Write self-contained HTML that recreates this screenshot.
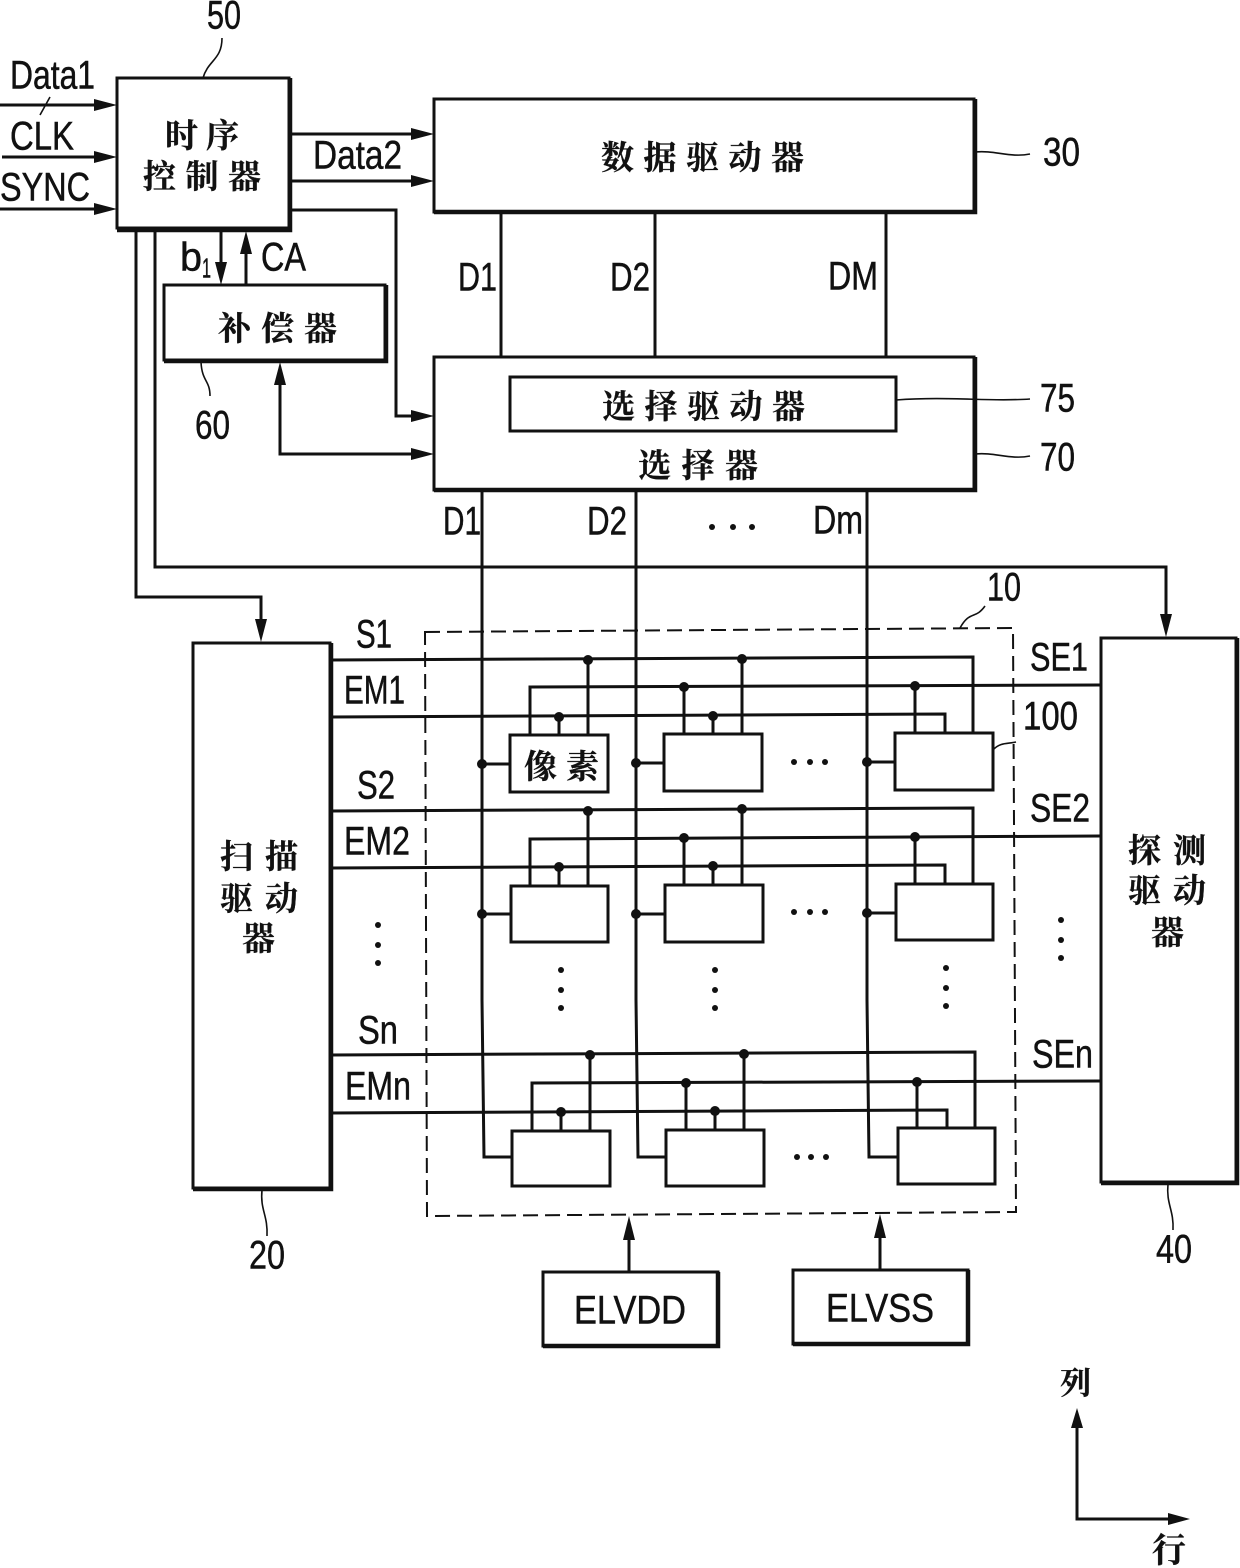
<!DOCTYPE html>
<html><head><meta charset="utf-8"><style>
html,body{margin:0;padding:0;background:#fff;width:1240px;height:1568px;overflow:hidden}
svg{display:block}
.l{font-family:"Liberation Sans",sans-serif;font-size:40px;fill:#111;stroke:#111;stroke-width:.5}
.c{font-family:"Noto Serif CJK SC","Noto Sans CJK SC",sans-serif;font-size:33px;fill:#111;font-weight:700;stroke:#111;stroke-width:.3}
</style></head><body>
<svg width="1240" height="1568" viewBox="0 0 1240 1568" xmlns="http://www.w3.org/2000/svg">
<rect width="1240" height="1568" fill="#fff"/>
<g fill="none" stroke="#111" stroke-width="3">
<!-- main boxes -->
<rect x="117" y="78" width="172" height="150"/>
<rect x="434" y="99" width="540" height="113"/>
<rect x="164" y="285" width="221" height="75"/>
<rect x="434" y="357" width="540" height="133"/>
<rect x="510" y="377" width="386" height="54"/>
<rect x="193" y="643" width="137" height="545"/>
<rect x="1101" y="638" width="135" height="544"/>
<rect x="543" y="1272" width="175" height="74"/>
<rect x="793" y="1270" width="175" height="74"/>
<!-- leads -->
<g stroke-width="1.6">
<path d="M203 78C208 60 222 60 222 38"/>
<path d="M201 362C202 382 210 380 210 396"/>
<path d="M975 152C995 150 1010 158 1030 154"/>
<path d="M896 400C950 396 990 402 1030 399"/>
<path d="M975 454C995 452 1010 460 1030 456"/>
<path d="M960 628C970 610 975 620 985 606"/>
<path d="M993 750C1000 742 1008 744 1016 742"/>
<path d="M262 1190C260 1210 268 1215 267 1236"/>
<path d="M1168 1184C1166 1204 1174 1210 1173 1230"/>
<path d="M40 115L50 97"/>
</g>
<!-- upper connectors -->
<path d="M0 105H110M2 157H110M0 209H110"/>
<path d="M290 134H425M290 181H425"/>
<path d="M290 210H396V416H425"/>
<path d="M280 372V454H425"/>
<path d="M221 229V275M246 285V240"/>
<path d="M136 229V597H261V630"/>
<path d="M155 229V567H1166V625"/>
<path d="M501 212V357M655 212V357M886 212V357"/>
<!-- data lines -->
<path d="M482 490V1000L484 1157H512"/>
<path d="M636 490V1000L638 1157H666"/>
<path d="M867 490V1000L869 1157H898"/>
<!-- dashed area -->
<path d="M425 632L1013 628L1016 1212L427 1216Z" stroke-width="2" stroke-dasharray="15 7"/>
<!-- row 1 -->
<path d="M330 660L973 657V733"/>
<path d="M1100 685L530 687V735"/>
<path d="M330 717L945 714V733"/>
<path d="M588 660V735M559 717V735M684 686V734M713 716V734M742 659V734M915 685V733"/>
<path d="M482 764H510M636 763H664M867 762H895"/>
<rect x="510" y="735" width="98" height="57"/>
<rect x="664" y="734" width="98" height="57"/>
<rect x="895" y="733" width="98" height="57"/>
<!-- row 2 -->
<path d="M330 811L973 808V884"/>
<path d="M1100 836L530 839V886"/>
<path d="M330 868L945 865V884"/>
<path d="M588 811V886M559 867V886M684 838V885M713 866V885M742 809V885M915 837V884"/>
<path d="M482 914H511M636 914H665M867 913H896"/>
<rect x="511" y="886" width="97" height="56"/>
<rect x="665" y="885" width="98" height="57"/>
<rect x="896" y="884" width="97" height="56"/>
<!-- row 3 -->
<path d="M330 1055L975 1052V1128"/>
<path d="M1100 1081L532 1083V1131"/>
<path d="M330 1113L947 1110V1128"/>
<path d="M590 1055V1131M561 1112V1131M686 1083V1130M715 1111V1130M744 1054V1130M917 1081V1128"/>
<rect x="512" y="1131" width="98" height="55"/>
<rect x="666" y="1130" width="98" height="56"/>
<rect x="898" y="1128" width="97" height="56"/>
<!-- power -->
<path d="M629 1272V1235M880 1270V1233"/>
<!-- axes -->
<path d="M1077 1425V1519H1170"/>
</g>
<!-- thick shadows -->
<g fill="none" stroke="#111" stroke-width="4.5">
<path d="M290 78V230H117"/>
<path d="M975 99V212H434"/>
<path d="M386 285V361H164"/>
<path d="M975 357V490H434"/>
<path d="M331 643V1189H193"/>
<path d="M1237 638V1183H1101"/>
<path d="M718 1272V1346H543"/>
<path d="M968 1270V1344H793"/>
</g>
<!-- arrowheads -->
<g fill="#111">
<path d="M117 105L94 99V111ZM117 157L94 151V163ZM117 209L94 203V215Z"/>
<path d="M434 134L411 128V140ZM434 181L411 175V187Z"/>
<path d="M434 416L411 410V422ZM434 454L411 448V460Z"/>
<path d="M280 362L274 385H286Z"/>
<path d="M221 285L215 262H227Z"/>
<path d="M246 231L240 254H252Z"/>
<path d="M261 642L255 619H267Z"/>
<path d="M1166 637L1160 614H1172Z"/>
<path d="M629 1216L623 1240H635Z"/>
<path d="M880 1214L874 1238H886Z"/>
<path d="M1077 1408L1071 1428H1083Z"/>
<path d="M1190 1519L1168 1513V1525Z"/>
<!-- junction dots -->
<g>
<circle cx="588" cy="660" r="5"/><circle cx="742" cy="659" r="5"/>
<circle cx="684" cy="687" r="5"/><circle cx="915" cy="686" r="5"/>
<circle cx="559" cy="717" r="5"/><circle cx="713" cy="716" r="5"/>
<circle cx="482" cy="764" r="5"/><circle cx="636" cy="763" r="5"/><circle cx="867" cy="762" r="5"/>
<circle cx="588" cy="811" r="5"/><circle cx="742" cy="809" r="5"/>
<circle cx="684" cy="838" r="5"/><circle cx="915" cy="837" r="5"/>
<circle cx="559" cy="867" r="5"/><circle cx="713" cy="866" r="5"/>
<circle cx="482" cy="914" r="5"/><circle cx="636" cy="914" r="5"/><circle cx="867" cy="913" r="5"/>
<circle cx="590" cy="1055" r="5"/><circle cx="744" cy="1054" r="5"/>
<circle cx="686" cy="1083" r="5"/><circle cx="917" cy="1082" r="5"/>
<circle cx="561" cy="1112" r="5"/><circle cx="715" cy="1111" r="5"/>
</g>
<!-- ellipsis dots -->
<g>
<circle cx="794" cy="762" r="3"/><circle cx="810" cy="762" r="3"/><circle cx="825" cy="762" r="3"/>
<circle cx="794" cy="912" r="3"/><circle cx="810" cy="912" r="3"/><circle cx="825" cy="912" r="3"/>
<circle cx="797" cy="1157" r="3"/><circle cx="811" cy="1157" r="3"/><circle cx="826" cy="1157" r="3"/>
<circle cx="712" cy="527" r="3"/><circle cx="733" cy="527" r="3"/><circle cx="752" cy="527" r="3"/>
<circle cx="378" cy="925" r="3"/><circle cx="378" cy="945" r="3"/><circle cx="378" cy="963" r="3"/>
<circle cx="561" cy="970" r="3"/><circle cx="561" cy="990" r="3"/><circle cx="561" cy="1008" r="3"/>
<circle cx="715" cy="970" r="3"/><circle cx="715" cy="990" r="3"/><circle cx="715" cy="1008" r="3"/>
<circle cx="946" cy="968" r="3"/><circle cx="946" cy="988" r="3"/><circle cx="946" cy="1006" r="3"/>
<circle cx="1061" cy="920" r="3"/><circle cx="1061" cy="940" r="3"/><circle cx="1061" cy="958" r="3"/>
</g>
</g>
<!-- Latin labels -->
<g class="l" transform="translate(0,-1.5)">
<text class="l" x="207" y="30" textLength="34" lengthAdjust="spacingAndGlyphs">50</text>
<text class="l" x="10" y="90" textLength="85" lengthAdjust="spacingAndGlyphs">Data1</text>
<text class="l" x="10" y="151" textLength="64" lengthAdjust="spacingAndGlyphs">CLK</text>
<text class="l" x="0" y="202" textLength="90" lengthAdjust="spacingAndGlyphs">SYNC</text>
<text class="l" x="313" y="170" textLength="89" lengthAdjust="spacingAndGlyphs">Data2</text>
<text class="l" x="1043" y="167" textLength="37" lengthAdjust="spacingAndGlyphs">30</text>
<text class="l" x="458" y="292" textLength="39" lengthAdjust="spacingAndGlyphs">D1</text>
<text class="l" x="610" y="292" textLength="40" lengthAdjust="spacingAndGlyphs">D2</text>
<text class="l" x="828" y="291" textLength="50" lengthAdjust="spacingAndGlyphs">DM</text>
<text class="l" x="180" y="272" textLength="22" lengthAdjust="spacingAndGlyphs">b</text>
<text class="l" x="202" y="279" style="font-size:28px" textLength="9" lengthAdjust="spacingAndGlyphs">1</text>
<text class="l" x="261" y="272" textLength="45" lengthAdjust="spacingAndGlyphs">CA</text>
<text class="l" x="195" y="440" textLength="35" lengthAdjust="spacingAndGlyphs">60</text>
<text class="l" x="1040" y="413" textLength="35" lengthAdjust="spacingAndGlyphs">75</text>
<text class="l" x="1040" y="472" textLength="35" lengthAdjust="spacingAndGlyphs">70</text>
<text class="l" x="443" y="536" textLength="38" lengthAdjust="spacingAndGlyphs">D1</text>
<text class="l" x="587" y="536" textLength="40" lengthAdjust="spacingAndGlyphs">D2</text>
<text class="l" x="813" y="535" textLength="50" lengthAdjust="spacingAndGlyphs">Dm</text>
<text class="l" x="987" y="602" textLength="34" lengthAdjust="spacingAndGlyphs">10</text>
<text class="l" x="356" y="649" textLength="36" lengthAdjust="spacingAndGlyphs">S1</text>
<text class="l" x="344" y="705" textLength="61" lengthAdjust="spacingAndGlyphs">EM1</text>
<text class="l" x="357" y="800" textLength="38" lengthAdjust="spacingAndGlyphs">S2</text>
<text class="l" x="344" y="856" textLength="66" lengthAdjust="spacingAndGlyphs">EM2</text>
<text class="l" x="358" y="1045" textLength="40" lengthAdjust="spacingAndGlyphs">Sn</text>
<text class="l" x="345" y="1101" textLength="66" lengthAdjust="spacingAndGlyphs">EMn</text>
<text class="l" x="1030" y="672" textLength="58" lengthAdjust="spacingAndGlyphs">SE1</text>
<text class="l" x="1030" y="823" textLength="60" lengthAdjust="spacingAndGlyphs">SE2</text>
<text class="l" x="1032" y="1069" textLength="61" lengthAdjust="spacingAndGlyphs">SEn</text>
<text class="l" x="1023" y="731" textLength="55" lengthAdjust="spacingAndGlyphs">100</text>
<text class="l" x="574" y="1325" textLength="112" lengthAdjust="spacingAndGlyphs">ELVDD</text>
<text class="l" x="826" y="1323" textLength="108" lengthAdjust="spacingAndGlyphs">ELVSS</text>
<text class="l" x="249" y="1270" textLength="36" lengthAdjust="spacingAndGlyphs">20</text>
<text class="l" x="1156" y="1264" textLength="36" lengthAdjust="spacingAndGlyphs">40</text>
</g>
<!-- CJK labels -->
<g class="c">
<text class="c" x="165" y="147" textLength="74">时序</text>
<text class="c" x="143" y="188" textLength="118">控制器</text>
<text class="c" x="601" y="169" textLength="203">数据驱动器</text>
<text class="c" x="218" y="340" textLength="119">补偿器</text>
<text class="c" x="602" y="418" textLength="203">选择驱动器</text>
<text class="c" x="638" y="477" textLength="120">选择器</text>
<text class="c" x="524" y="778" textLength="75">像素</text>
<text class="c" x="220" y="868" textLength="78">扫描</text>
<text class="c" x="220" y="910" textLength="78">驱动</text>
<text class="c" x="242" y="950">器</text>
<text class="c" x="1128" y="862" textLength="78">探测</text>
<text class="c" x="1128" y="902" textLength="78">驱动</text>
<text class="c" x="1151" y="944">器</text>
<text class="c" x="1060" y="1394" style="font-size:31px">列</text>
<text class="c" x="1152" y="1562" style="font-size:34px">行</text>
</g>
</svg>
</body></html>
